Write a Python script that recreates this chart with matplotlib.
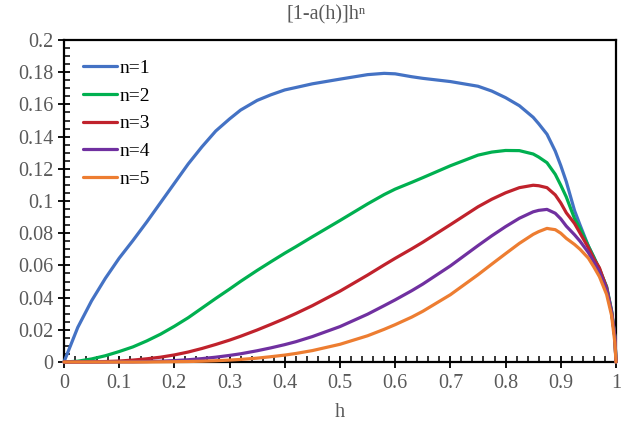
import matplotlib
matplotlib.use("Agg")
import matplotlib.pyplot as plt
from matplotlib.ticker import MultipleLocator, FormatStrFormatter

# Valores
h = [0, 0.025, 0.05, 0.075, 0.1, 0.125, 0.15, 0.175, 0.2, 0.225, 0.25, 0.275,
     0.3, 0.32, 0.35, 0.375, 0.4, 0.42, 0.45, 0.5, 0.55, 0.58, 0.6, 0.63, 0.65,
     0.7, 0.75, 0.775, 0.8, 0.825, 0.85, 0.86, 0.875, 0.88, 0.89, 0.9, 0.91,
     0.925, 0.935, 0.95, 0.96, 0.97, 0.983, 0.992, 0.998, 1.0]

n1 = [0, 0.0215, 0.038, 0.052, 0.0645, 0.0755, 0.087, 0.099, 0.111, 0.123,
      0.1337, 0.1435, 0.151, 0.1565, 0.1625, 0.166, 0.169, 0.1705, 0.1728,
      0.1757, 0.1785, 0.1793, 0.179, 0.1772, 0.1762, 0.1742, 0.1713, 0.1683,
      0.1642, 0.1592, 0.152, 0.148, 0.1415, 0.138, 0.131, 0.122, 0.112,
      0.094, 0.085, 0.072, 0.065, 0.057, 0.047, 0.032, 0.0157, 0]

n2 = [0, 0.0005, 0.0019, 0.0039, 0.0065, 0.0094, 0.0131, 0.0173, 0.0222,
      0.0275, 0.0335, 0.0395, 0.0453, 0.0501, 0.0569, 0.0623, 0.0676, 0.0716,
      0.0778, 0.0879, 0.0982, 0.104, 0.1074, 0.1116, 0.1145, 0.1219, 0.1285,
      0.1304, 0.1314, 0.1313, 0.1292, 0.1273, 0.1238, 0.1214, 0.1166, 0.1098,
      0.1025, 0.089, 0.083, 0.072, 0.065, 0.058, 0.0465, 0.0317, 0.0157, 0]

n3 = [0, 0, 0.0001, 0.0003, 0.0006, 0.0012, 0.002, 0.003, 0.0044, 0.0062,
      0.0084, 0.0109, 0.0136, 0.016, 0.0199, 0.0234, 0.027, 0.0301, 0.035,
      0.044, 0.054, 0.0603, 0.0644, 0.0703, 0.0744, 0.0853, 0.0964, 0.1011,
      0.1051, 0.1083, 0.1098, 0.1095, 0.1083, 0.1068, 0.1038, 0.0988, 0.0927,
      0.086, 0.08, 0.071, 0.064, 0.0585, 0.046, 0.031, 0.0155, 0]

n4 = [0, 0, 0, 0, 0.0001, 0.0001, 0.0003, 0.0005, 0.0009, 0.0014, 0.0021,
      0.003, 0.0041, 0.0051, 0.007, 0.0088, 0.0108, 0.0126, 0.0158, 0.022,
      0.0297, 0.035, 0.0386, 0.0443, 0.0484, 0.0597, 0.0723, 0.0784, 0.0841,
      0.0893, 0.0933, 0.0942, 0.0948, 0.094, 0.0924, 0.0889, 0.0844, 0.079,
      0.075, 0.068, 0.062, 0.056, 0.045, 0.031, 0.015, 0]

n5 = [0, 0, 0, 0, 0, 0, 0, 0.0001, 0.0002, 0.0003, 0.0005, 0.0008, 0.0012,
      0.0016, 0.0024, 0.0033, 0.0043, 0.0053, 0.0071, 0.011, 0.0163, 0.0203,
      0.0232, 0.0279, 0.0315, 0.0418, 0.0542, 0.0608, 0.0673, 0.0737, 0.0793,
      0.081, 0.083, 0.0827, 0.0822, 0.08, 0.0768, 0.073, 0.07, 0.0645, 0.059,
      0.053, 0.042, 0.029, 0.012, 0]

series = [n1, n2, n3, n4, n5]
labels = ["n=1", "n=2", "n=3", "n=4", "n=5"]
colores = ["#4472C4", "#00B050", "#C0222C", "#7030A0", "#ED7D31"]

plt.rcParams['font.family'] = ['Liberation Serif', 'DejaVu Serif']
gris = "#595959"

fig = plt.figure(figsize=(6.29, 4.24), dpi=100)
ax = fig.add_axes([0.1017, 0.1462, 0.8776, 0.7594])

for valores, label, color in zip(series, labels, colores):
    ax.plot(h, valores, color=color, linewidth=2.3, label=label,
            solid_capstyle='round', solid_joinstyle='round',
            zorder=3, clip_on=False)

ax.set_xlim(0, 1)
ax.set_ylim(0, 0.2)
ax.xaxis.set_major_locator(MultipleLocator(0.1))
ax.xaxis.set_minor_locator(MultipleLocator(0.02))
ax.yaxis.set_major_locator(MultipleLocator(0.02))
ax.yaxis.set_minor_locator(MultipleLocator(0.005))
ax.xaxis.set_major_formatter(FormatStrFormatter('%g'))
ax.yaxis.set_major_formatter(FormatStrFormatter('%g'))

ax.tick_params(which='major', direction='inout', length=9, width=1.3,
               labelsize=14.5, labelcolor=gris)
ax.tick_params(axis='x', which='major', pad=4)
ax.tick_params(axis='y', which='major', pad=3)
ax.tick_params(which='minor', direction='in', length=4, width=1.1)
for s in ax.spines.values():
    s.set_linewidth(1.6)

ax.set_xlabel("h", fontsize=14.5, color=gris, labelpad=7)
fig.text(0.518, 0.965, "[1-a(h)]hⁿ", fontsize=14.5, color=gris,
         ha='center', va='center')

ax.legend(loc='upper left', bbox_to_anchor=(0.034, 0.94), frameon=False,
          fontsize=14, handlelength=1.75, handletextpad=0.15,
          labelspacing=0.52, borderpad=0, borderaxespad=0)

plt.savefig("out.png", dpi=100)
